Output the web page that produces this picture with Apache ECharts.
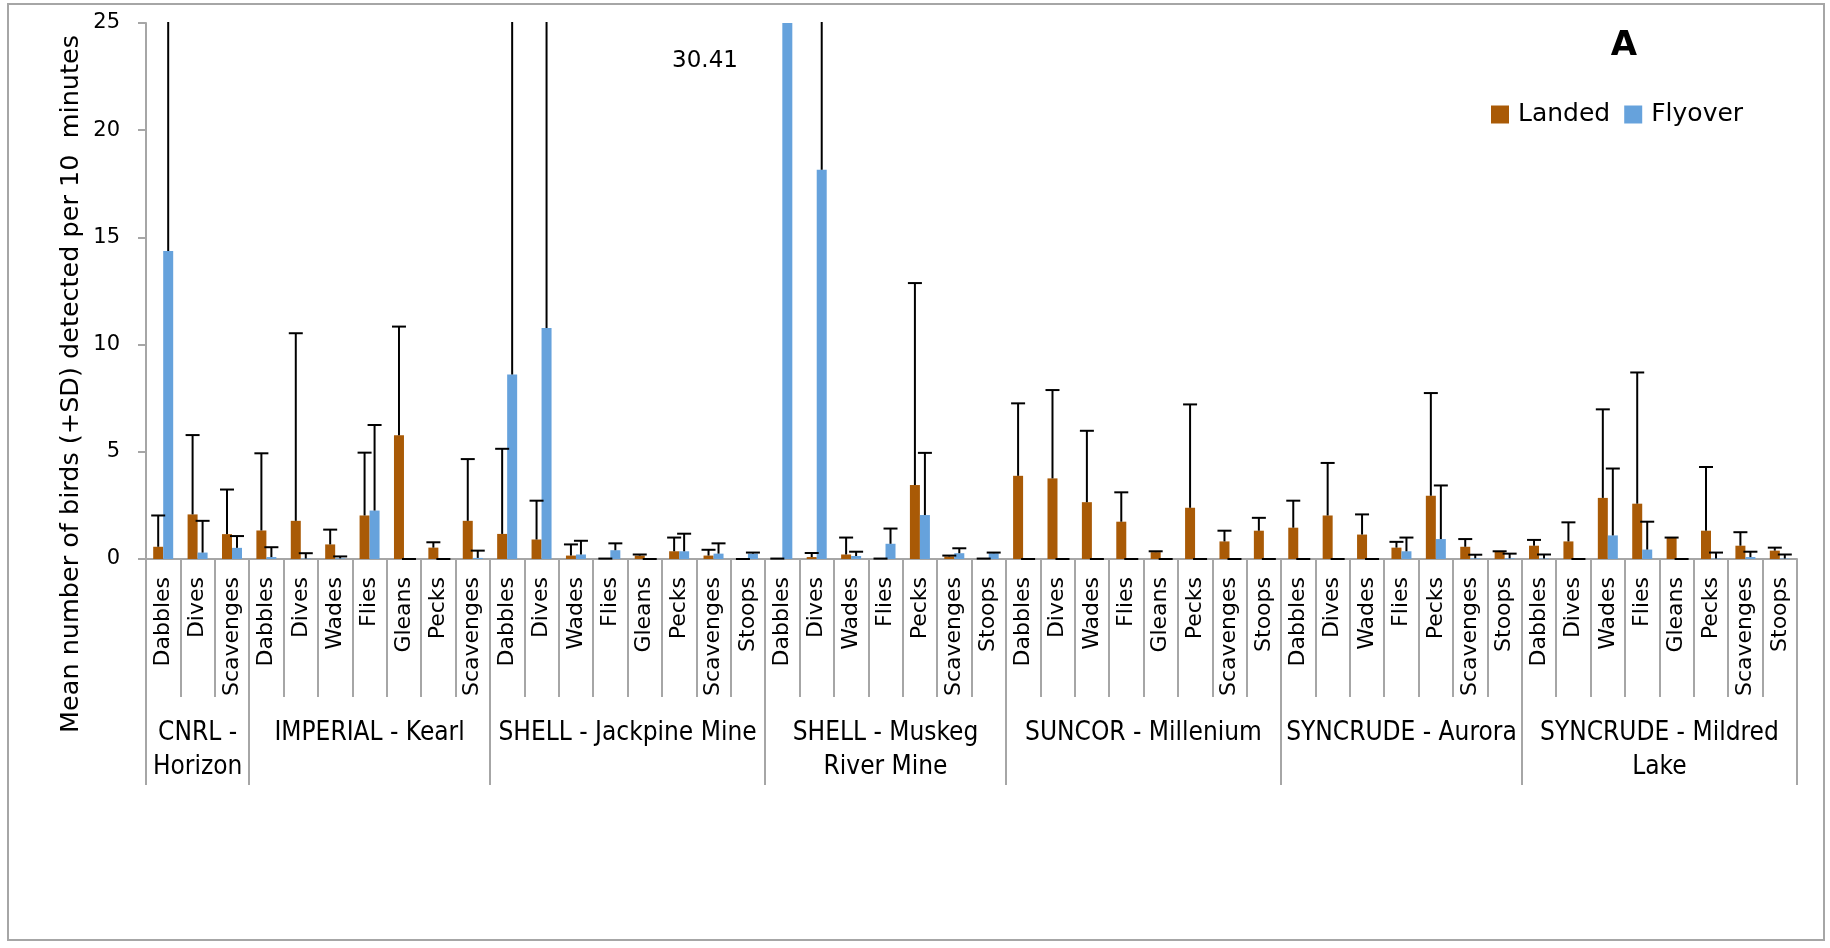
<!DOCTYPE html>
<html>
<head>
<meta charset="utf-8">
<script src="https://cdn.jsdelivr.net/npm/echarts@6/dist/echarts.min.js"></script>
<style>
html,body{margin:0;padding:0;background:#fff;}
#chart{width:1830px;height:948px;}
</style>
</head>
<body>
<div id="chart"></div>
<script>
// ---- data ----
const groupNames = ['CNRL -\nHorizon', 'IMPERIAL - Kearl', 'SHELL - Jackpine Mine', 'SHELL - Muskeg\nRiver Mine', 'SUNCOR - Millenium', 'SYNCRUDE - Aurora', 'SYNCRUDE - Mildred\nLake'];
const groupBehaviours = [
  ['Dabbles', 'Dives', 'Scavenges'],
  ['Dabbles', 'Dives', 'Wades', 'Flies', 'Gleans', 'Pecks', 'Scavenges'],
  ['Dabbles', 'Dives', 'Wades', 'Flies', 'Gleans', 'Pecks', 'Scavenges', 'Stoops'],
  ['Dabbles', 'Dives', 'Wades', 'Flies', 'Pecks', 'Scavenges', 'Stoops'],
  ['Dabbles', 'Dives', 'Wades', 'Flies', 'Gleans', 'Pecks', 'Scavenges', 'Stoops'],
  ['Dabbles', 'Dives', 'Wades', 'Flies', 'Pecks', 'Scavenges', 'Stoops'],
  ['Dabbles', 'Dives', 'Wades', 'Flies', 'Gleans', 'Pecks', 'Scavenges', 'Stoops']
];
const landed = [0.57, 2.08, 1.16, 1.33, 1.78, 0.68, 2.03, 5.77, 0.53, 1.78,
  1.17, 0.91, 0.16, 0.02, 0.16, 0.36, 0.16, 0, 0.02, 0.09,
  0.21, 0.02, 3.45, 0.12, 0.02, 3.88, 3.76, 2.65, 1.74, 0.32,
  2.39, 0.82, 1.32, 1.46, 2.03, 1.14, 0.53, 2.95, 0.57, 0.34,
  0.62, 0.82, 2.85, 2.58, 1.00, 1.32, 0.62, 0.39];
const landedSD = [1.46, 3.70, 2.08, 3.60, 8.75, 0.69, 2.93, 5.07, 0.25, 2.88,
  3.97, 1.81, 0.52, 0, 0.05, 0.64, 0.27, 0, 0, 0.19,
  0.79, 0, 9.42, 0.04, 0, 3.38, 4.12, 3.33, 1.37, 0.04,
  4.82, 0.50, 0.60, 1.26, 2.45, 0.94, 0.27, 4.79, 0.36, 0.02,
  0.27, 0.89, 4.13, 6.12, 0, 2.97, 0.63, 0.14];
const flyover = [14.37, 0.30, 0.52, 0.09, 0.02, 0.03, 2.26, 0, 0, 0.05,
  8.60, 10.78, 0.21, 0.41, 0, 0.36, 0.25, 0.25, 30.41, 18.15,
  0.14, 0.71, 2.05, 0.27, 0.27, 0, 0, 0, 0, 0,
  0, 0, 0, 0, 0, 0, 0.36, 0.93, 0.03, 0.03,
  0.02, 0, 1.10, 0.44, 0, 0.02, 0.09, 0.02];
const flyoverSD = [20, 1.48, 0.55, 0.46, 0.25, 0.09, 3.99, 0, 0, 0.34,
  20, 20, 0.64, 0.32, 0, 0.82, 0.48, 0.05, 20, 20,
  0.20, 0.71, 2.90, 0.23, 0.03, 0, 0, 0, 0, 0,
  0, 0, 0, 0, 0, 0, 0.64, 2.50, 0.17, 0.22,
  0.19, 0, 3.12, 1.30, 0, 0.28, 0.25, 0.19];
const annotationText = '30.41';
const yTitle = 'Mean number of birds (+SD) detected per 10  minutes';
const panelLetter = 'A';

// ---- derived ----
const categories = [].concat(...groupBehaviours);
// group axis in half-category steps: boundaries and centres are all integer points
const groupPoints = new Array(categories.length * 2 + 1).fill('');
const groupBoundaries = new Set([0]);
let acc = 0;
groupBehaviours.forEach((g, k) => {
  groupPoints[acc * 2 + g.length] = groupNames[k];
  acc += g.length;
  groupBoundaries.add(acc * 2);
});

const BROWN = '#A95A06', BLUE = '#66A2DC', GRAY = '#A6A6A6';
const FONT = 'DejaVu Sans';
const NARROW = "'DejaVu Sans Condensed', 'Liberation Sans'";
const BAR_W = 10;

function errorSeries(name, means, sds, side) {
  return {
    type: 'custom', name: name, z: 5,
    data: means.map((m, i) => [i, m, sds[i]]),
    renderItem: function (params, api) {
      const i = api.value(0), m = api.value(1), sd = api.value(2);
      const base = api.coord([i, m]);
      const top = api.coord([i, m + sd]);
      const x = base[0] + side * BAR_W / 2;
      const cs = params.coordSys;
      return {
        type: 'group',
        clipPath: {type: 'rect', shape: {x: cs.x, y: cs.y - 1, width: cs.width, height: cs.height + 2}},
        children: [
          {type: 'line', shape: {x1: x, y1: base[1], x2: x, y2: top[1]}, style: {stroke: '#000', lineWidth: 2}},
          {type: 'line', shape: {x1: x - 7, y1: top[1], x2: x + 7, y2: top[1]}, style: {stroke: '#000', lineWidth: 2}}
        ]
      };
    }
  };
}

const chart = echarts.init(document.getElementById('chart'), null, {renderer: 'canvas'});
chart.setOption({
  backgroundColor: '#fff',
  animation: false,
  title: {
    text: panelLetter, left: 1619, top: 24, textAlign: 'center',
    textStyle: {fontFamily: FONT, fontSize: 34, fontWeight: 'bold', color: '#000'}
  },
  legend: {
    data: ['Landed', 'Flyover'], left: 1486, top: 97,
    itemWidth: 18, itemHeight: 18, itemGap: 14, icon: 'rect',
    textStyle: {fontFamily: FONT, fontSize: 25, color: '#000', padding: [0, 0, 0, 4]}
  },
  grid: {left: 146, right: 33, top: 23, bottom: 389, containLabel: false},
  xAxis: [
    {
      type: 'category', data: categories, position: 'bottom',
      axisLine: {show: true, lineStyle: {color: GRAY, width: 2}},
      axisTick: {show: true, interval: 0, length: 138, lineStyle: {color: GRAY, width: 2}},
      axisLabel: {interval: 0, rotate: 90, margin: 18, fontFamily: FONT, fontSize: 22, color: '#000'},
      splitLine: {show: false}
    },
    {
      type: 'category', data: groupPoints, position: 'bottom', boundaryGap: false,
      axisLine: {show: false},
      axisTick: {show: true, length: 226, interval: function (idx) { return groupBoundaries.has(idx); },
        lineStyle: {color: GRAY, width: 2}},
      axisLabel: {interval: function (idx, val) { return val !== ''; }, margin: 157, hideOverlap: false,
        fontFamily: NARROW, fontSize: 26, lineHeight: 34, color: '#000', align: 'center'},
      splitLine: {show: false}
    }
  ],
  yAxis: {
    type: 'value', min: 0, max: 25, interval: 5,
    axisLine: {show: true, lineStyle: {color: GRAY, width: 2}},
    axisTick: {show: true, length: 8, lineStyle: {color: GRAY, width: 2}},
    axisLabel: {margin: 26, fontFamily: FONT, fontSize: 21, color: '#000'},
    splitLine: {show: false}
  },
  series: [
    {type: 'bar', name: 'Landed', data: landed, barWidth: BAR_W, barGap: '0%', itemStyle: {color: BROWN}},
    {type: 'bar', name: 'Flyover', data: flyover, barWidth: BAR_W, barGap: '0%', itemStyle: {color: BLUE}},
    errorSeries('Landed SD', landed, landedSD, -1),
    errorSeries('Flyover SD', flyover, flyoverSD, 1)
  ],
  graphic: [
    {type: 'rect', shape: {x: 8, y: 4, width: 1816, height: 936}, style: {fill: 'none', stroke: GRAY, lineWidth: 2}, silent: true},
    {type: 'text', x: 71, y: 384, rotation: Math.PI / 2,
      style: {text: yTitle, fontFamily: FONT, fontSize: 25.5, fill: '#000', align: 'center', verticalAlign: 'middle'}},
    {type: 'text', x: 705, y: 61,
      style: {text: annotationText, fontFamily: FONT, fontSize: 23, fill: '#000', align: 'center', verticalAlign: 'middle'}}
  ]
});
</script>
</body>
</html>
